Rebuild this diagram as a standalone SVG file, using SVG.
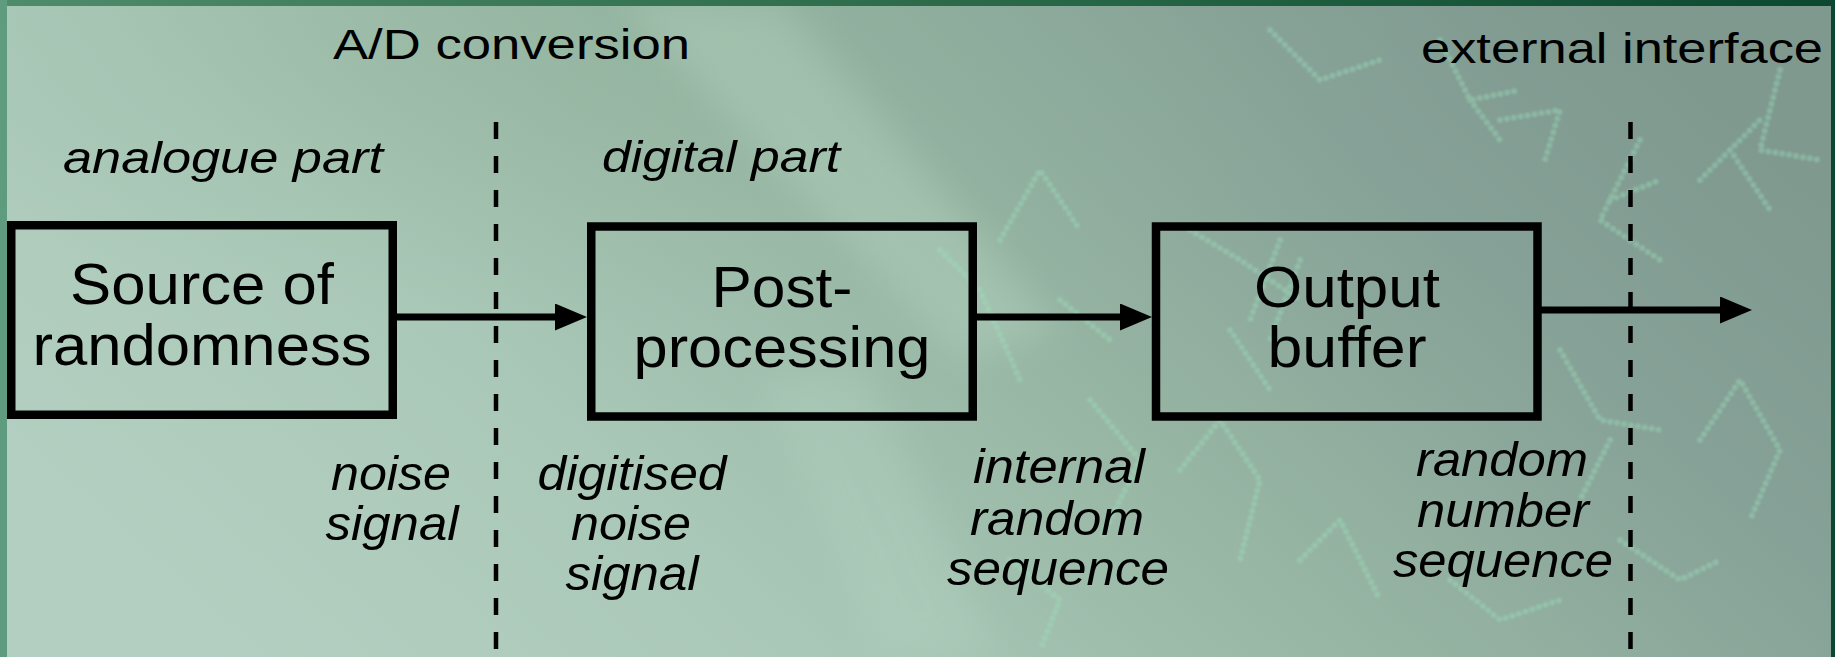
<svg xmlns="http://www.w3.org/2000/svg" width="1835" height="657" viewBox="0 0 1835 657">
  <defs>
    <style>
      .frame { fill: none; stroke: #000; stroke-width: 8.5; }
      .txt { font-family: "Liberation Sans", Arial, Helvetica, sans-serif; fill: #000; }
      .boxtxt { font-size: 57px; text-anchor: middle; }
      .head { font-size: 42px; }
      .part { font-size: 45px; font-style: italic; }
      .sig { font-size: 48px; font-style: italic; text-anchor: middle; }
      .flow { stroke: #000; stroke-width: 7; fill: none; marker-end: url(#head); }
      .bound { stroke: #000; stroke-width: 4.5; stroke-dasharray: 17 17; fill: none; }
      .dots { fill: none; stroke: #9be2bd; stroke-width: 6; stroke-linecap: round; stroke-dasharray: 0 7; }
    </style>
    <linearGradient id="bg" x1="0" y1="0.7" x2="1" y2="0.3">
      <stop offset="0" stop-color="#b3cfc1"/>
      <stop offset="0.28" stop-color="#aac8b7"/>
      <stop offset="0.55" stop-color="#97b5a3"/>
      <stop offset="0.8" stop-color="#86a197"/>
      <stop offset="1" stop-color="#7f998f"/>
    </linearGradient>
    <radialGradient id="shade" cx="0.35" cy="0.05" r="0.45">
      <stop offset="0" stop-color="#8fb39c" stop-opacity="0.45"/>
      <stop offset="1" stop-color="#8fb39c" stop-opacity="0"/>
    </radialGradient>
    <linearGradient id="band" x1="0" x2="1">
      <stop offset="0" stop-color="#4e8c6b"/>
      <stop offset="0.5" stop-color="#2c6c4a"/>
      <stop offset="1" stop-color="#0c4830"/>
    </linearGradient>
    <filter id="soft" x="-20%" y="-20%" width="140%" height="140%">
      <feGaussianBlur stdDeviation="18"/>
    </filter>
    <filter id="haze" x="-5%" y="-5%" width="110%" height="110%">
      <feGaussianBlur stdDeviation="1.3"/>
    </filter>
    <marker id="head" markerUnits="userSpaceOnUse" markerWidth="34" markerHeight="28" refX="12" refY="13.5" orient="auto">
      <path d="M0,0 L32,13.5 L0,27 Z" fill="#000"/>
    </marker>
  </defs>

  <!-- backdrop -->
  <g id="backdrop">
    <rect x="0" y="0" width="1835" height="657" fill="url(#bg)"/>
    <rect x="0" y="0" width="1835" height="657" fill="url(#shade)"/>
    <path d="M620,0 L780,0 L1060,330 L960,360 Z" fill="#c8e6d4" opacity="0.25" filter="url(#soft)"/>
    <path d="M760,380 L860,360 L1000,657 L880,657 Z" fill="#c8e6d4" opacity="0.18" filter="url(#soft)"/>
    <!-- dotted character texture -->
    <g opacity="0.4" filter="url(#haze)">
      <path class="dots" d="M1270,30 L1320,80 L1380,60"/>
      <path class="dots" d="M1440,40 L1470,100 L1520,90 M1470,100 L1500,140"/>
      <path class="dots" d="M1500,120 L1560,110 L1545,160"/>
      <path class="dots" d="M1640,140 L1600,220 L1660,260 M1610,200 L1660,180"/>
      <path class="dots" d="M1700,180 L1760,120 M1730,150 L1770,210"/>
      <path class="dots" d="M1780,70 L1760,150 L1820,160"/>
      <path class="dots" d="M1190,230 L1240,260 L1300,300 M1230,330 L1270,390"/>
      <path class="dots" d="M1280,240 L1250,320 M1300,260 L1270,340"/>
      <path class="dots" d="M1000,240 L1040,170 L1080,230 M1060,300 L1110,340"/>
      <path class="dots" d="M940,250 L980,290 L1020,380"/>
      <path class="dots" d="M1090,400 L1140,460 L1100,540"/>
      <path class="dots" d="M1180,470 L1220,420 L1260,480 L1240,560"/>
      <path class="dots" d="M1300,560 L1340,520 L1380,600"/>
      <path class="dots" d="M1560,350 L1600,420 L1660,430 M1610,440 L1580,500"/>
      <path class="dots" d="M1700,440 L1740,380 L1780,450 L1750,520"/>
      <path class="dots" d="M1620,540 L1680,580 L1720,560"/>
      <path class="dots" d="M1010,560 L1060,600 L1040,650"/>
      <path class="dots" d="M1450,580 L1500,620 L1560,600"/>
    </g>
    <!-- frame edges -->
    <rect x="0" y="0" width="1835" height="6" fill="url(#band)"/>
    <rect x="0" y="0" width="7" height="657" fill="#5f9b7f"/>
    <rect x="1831" y="0" width="4" height="657" fill="#0c4830"/>
  </g>

  <!-- boundaries between the parts -->
  <g id="boundaries">
    <line class="bound" x1="496" y1="122" x2="496" y2="650"/>
    <line class="bound" x1="1630.5" y1="122" x2="1630.5" y2="650"/>
  </g>

  <!-- section headings -->
  <g id="headings" class="txt">
    <text class="head" x="333" y="59" textLength="357" lengthAdjust="spacingAndGlyphs">A/D conversion</text>
    <text class="head" x="1421" y="63" textLength="402" lengthAdjust="spacingAndGlyphs">external interface</text>
    <text class="part" x="63" y="173" textLength="320" lengthAdjust="spacingAndGlyphs">analogue part</text>
    <text class="part" x="602" y="172" textLength="238" lengthAdjust="spacingAndGlyphs">digital part</text>
  </g>

  <!-- processing blocks -->
  <g id="source" class="txt">
    <rect class="frame" x="11.25" y="225.25" width="381.5" height="189.5"/>
    <text class="boxtxt" x="202" y="304" textLength="264" lengthAdjust="spacingAndGlyphs">Source of</text>
    <text class="boxtxt" x="202" y="365" textLength="339" lengthAdjust="spacingAndGlyphs">randomness</text>
  </g>
  <g id="postprocessing" class="txt">
    <rect class="frame" x="591.25" y="226.5" width="381.5" height="190"/>
    <text class="boxtxt" x="782" y="307" textLength="141" lengthAdjust="spacingAndGlyphs">Post-</text>
    <text class="boxtxt" x="782" y="367" textLength="297" lengthAdjust="spacingAndGlyphs">processing</text>
  </g>
  <g id="buffer" class="txt">
    <rect class="frame" x="1156" y="226.5" width="381.5" height="190"/>
    <text class="boxtxt" x="1347" y="307" textLength="186" lengthAdjust="spacingAndGlyphs">Output</text>
    <text class="boxtxt" x="1347" y="367" textLength="159" lengthAdjust="spacingAndGlyphs">buffer</text>
  </g>

  <!-- signal flow -->
  <g id="connectors">
    <line class="flow" x1="396" y1="317" x2="567" y2="317"/>
    <line class="flow" x1="976" y1="317" x2="1132" y2="317"/>
    <line class="flow" x1="1541" y1="310" x2="1732" y2="310"/>
  </g>

  <!-- signal names -->
  <g id="signals" class="txt">
    <text class="sig" x="391" y="490" textLength="120" lengthAdjust="spacingAndGlyphs">noise</text>
    <text class="sig" x="392" y="540" textLength="133" lengthAdjust="spacingAndGlyphs">signal</text>
    <text class="sig" x="632" y="490" textLength="189" lengthAdjust="spacingAndGlyphs">digitised</text>
    <text class="sig" x="631" y="540" textLength="120" lengthAdjust="spacingAndGlyphs">noise</text>
    <text class="sig" x="632" y="590" textLength="133" lengthAdjust="spacingAndGlyphs">signal</text>
    <text class="sig" x="1059" y="483" textLength="172" lengthAdjust="spacingAndGlyphs">internal</text>
    <text class="sig" x="1057" y="535" textLength="174" lengthAdjust="spacingAndGlyphs">random</text>
    <text class="sig" x="1058" y="585" textLength="222" lengthAdjust="spacingAndGlyphs">sequence</text>
    <text class="sig" x="1502" y="476" textLength="172" lengthAdjust="spacingAndGlyphs">random</text>
    <text class="sig" x="1503" y="527" textLength="172" lengthAdjust="spacingAndGlyphs">number</text>
    <text class="sig" x="1503" y="577" textLength="220" lengthAdjust="spacingAndGlyphs">sequence</text>
  </g>
</svg>
